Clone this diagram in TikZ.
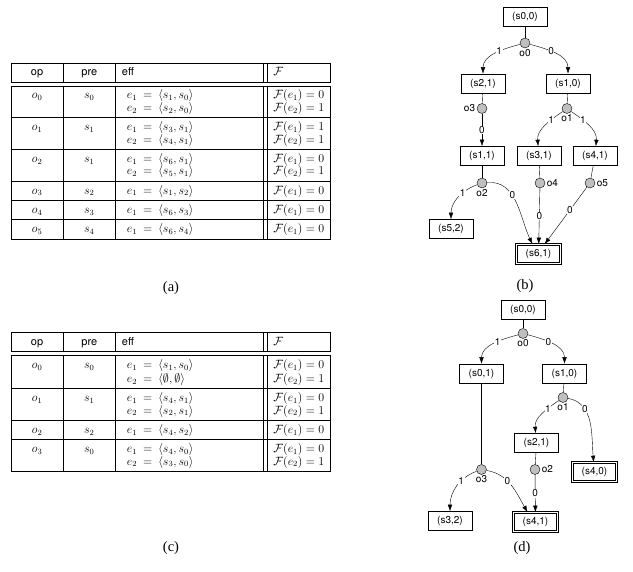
\documentclass[tikz,border=0pt]{standalone}
\usepackage[no-math]{fontspec}
\setsansfont{TeX Gyre Heros}
\newfontfamily\capfont{Liberation Serif}
\usepackage{array}
\usetikzlibrary{positioning,arrows.meta}

\newcolumntype{C}[1]{>{\centering\arraybackslash}p{#1}}
\newcolumntype{L}[1]{>{\raggedright\arraybackslash}p{#1}}
\newcommand{\tp}{\rule{0pt}{12.5pt}}
\newcommand{\bt}{\rule[-6pt]{0pt}{6pt}}
\newcommand{\eff}[3]{\hspace{5pt}$#1$\hspace{6pt}$=$\hspace{6pt}$\langle #2, #3\rangle$}
\newcommand{\fv}[2]{\mbox{$\mathcal{F}(#1) = #2$}}
\newcommand{\hd}{\sffamily\fontsize{11}{12}\selectfont}
\setlength{\arrayrulewidth}{0.7pt}
\setlength{\doublerulesep}{3pt}

\begin{document}
\begin{tikzpicture}[x=1pt,y=-1pt,
  state/.style={draw, line width=0.5pt, rectangle, minimum width=44pt, minimum height=19pt, inner sep=1pt, font=\sffamily\fontsize{10}{12}\selectfont},
  goal/.style={state, line width=0.6pt, double, double distance=1.3pt},
  opnode/.style={circle, draw, fill=gray!50, minimum size=10pt, inner sep=0pt},
  lbl/.style={font=\sffamily\fontsize{10}{12}\selectfont, inner sep=0.5pt},
  onl/.style={lbl, fill=white},
  arr/.style={-{Latex[length=6.5pt,width=4.5pt]}},
  capt/.style={font=\capfont\fontsize{14.5}{16}\selectfont},
  tab/.style={inner sep=0pt, font=\fontsize{11.5}{12}\selectfont}]
\useasboundingbox (0,0) rectangle (633,572);

% table (a)
\node[tab] (taba) at (171,151) {%
\begin{tabular}{|C{39pt}|C{40pt}|L{135pt}||L{51pt}|}
\hline
\tp\bt\hd op & \hd pre & \hd eff & $\mathcal{F}$\\
\hline\hline
\tp$o_0$ & $s_0$ & \eff{e_1}{s_1}{s_0} & \fv{e_1}{0}\\
\bt & & \eff{e_2}{s_2}{s_0} & \fv{e_2}{1}\\
\hline
\tp$o_1$ & $s_1$ & \eff{e_1}{s_3}{s_1} & \fv{e_1}{1}\\
\bt & & \eff{e_2}{s_4}{s_1} & \fv{e_2}{1}\\
\hline
\tp$o_2$ & $s_1$ & \eff{e_1}{s_6}{s_1} & \fv{e_1}{0}\\
\bt & & \eff{e_2}{s_5}{s_1} & \fv{e_2}{1}\\
\hline
\tp\bt$o_3$ & $s_2$ & \eff{e_1}{s_1}{s_2} & \fv{e_1}{0}\\
\hline
\tp\bt$o_4$ & $s_3$ & \eff{e_1}{s_6}{s_3} & \fv{e_1}{0}\\
\hline
\tp\bt$o_5$ & $s_4$ & \eff{e_1}{s_6}{s_4} & \fv{e_1}{0}\\
\hline
\end{tabular}};
\node[capt] (capa) at (171,288) {(a)};

% graph (b)
\node[state] (s00b) at (525,17) {(s0,0)};
\node[opnode] (o0b) at (525,43) {};
\node[state] (s21b) at (483,83.5) {(s2,1)};
\node[state] (s10b) at (568,83.5) {(s1,0)};
\node[opnode] (o3b) at (482,108.5) {};
\node[opnode] (o1b) at (567,108.5) {};
\node[state] (s11b) at (482,156) {(s1,1)};
\node[state] (s31b) at (539,156) {(s3,1)};
\node[state] (s41b) at (595,156) {(s4,1)};
\node[opnode] (o2b) at (482,183) {};
\node[opnode] (o4b) at (540,183) {};
\node[opnode] (o5b) at (590,183) {};
\node[state] (s52b) at (451,229) {(s5,2)};
\node[goal] (s61b) at (538.5,254) {(s6,1)};

\node[lbl, below=0.5pt of o0b] (lo0b) {o0};
\node[lbl, left=1pt of o3b] (lo3b) {o3};
\node[lbl, below=0.5pt of o1b] (lo1b) {o1};
\node[lbl, below=0.5pt of o2b] (lo2b) {o2};
\node[lbl, right=1pt of o4b] (lo4b) {o4};
\node[lbl, right=1pt of o5b] (lo5b) {o5};

\draw (s00b) -- (o0b);
\draw[arr] (o0b) to[out=195,in=90] node[onl,pos=0.4] (e1b) {1} (s21b);
\draw[arr] (o0b) to[out=-15,in=90] node[onl,pos=0.4] (e2b) {0} (s10b);
\draw (s21b) -- (o3b);
\draw[arr] (o3b) -- node[onl] (e3b) {0} (s11b);
\draw (s10b) -- (o1b);
\draw[arr] (o1b) to[out=215,in=95] node[onl,pos=0.3] (e4b) {1} (s31b);
\draw[arr] (o1b) to[out=-35,in=85] node[onl,pos=0.3] (e5b) {1} (s41b);
\draw (s11b) -- (o2b);
\draw[arr] (o2b) to[out=200,in=90] node[onl,pos=0.35] (e6b) {1} (s52b);
\draw[arr] (o2b) to[out=5,in=115] node[onl,pos=0.4] (e7b) {0} (s61b.122);
\draw (s31b) -- (o4b);
\draw[arr] (o4b) -- node[onl] (e8b) {0} (s61b);
\draw (s41b) -- (o5b);
\draw[arr] (o5b) -- node[onl,pos=0.4] (e9b) {0} (s61b.58);
\node[capt] (capb) at (525,286) {(b)};

% table (c)
\node[tab] (tabc) at (171,402) {%
\begin{tabular}{|C{39pt}|C{40pt}|L{135pt}||L{51pt}|}
\hline
\tp\bt\hd op & \hd pre & \hd eff & $\mathcal{F}$\\
\hline\hline
\tp$o_0$ & $s_0$ & \eff{e_1}{s_1}{s_0} & \fv{e_1}{0}\\
\bt\rule{0pt}{10.5pt} & & \eff{e_2}{\emptyset}{\emptyset} & \fv{e_2}{1}\\
\hline
\tp$o_1$ & $s_1$ & \eff{e_1}{s_4}{s_1} & \fv{e_1}{0}\\
\bt & & \eff{e_2}{s_2}{s_1} & \fv{e_2}{1}\\
\hline
\tp\bt$o_2$ & $s_2$ & \eff{e_1}{s_4}{s_2} & \fv{e_1}{0}\\
\hline
\tp$o_3$ & $s_0$ & \eff{e_1}{s_4}{s_0} & \fv{e_1}{0}\\
\bt & & \eff{e_2}{s_3}{s_0} & \fv{e_2}{1}\\
\hline
\end{tabular}};
\node[capt] (capc) at (171,548) {(c)};

% graph (d)
\node[state] (s00d) at (523,310) {(s0,0)};
\node[opnode] (o0d) at (523,333.5) {};
\node[state] (s01d) at (481.5,373.5) {(s0,1)};
\node[state] (s10d) at (564.5,373.5) {(s1,0)};
\node[opnode] (o1d) at (563,397.5) {};
\node[state] (s21d) at (536.5,443) {(s2,1)};
\node[goal] (s40d) at (594.5,472) {(s4,0)};
\node[opnode] (o2d) at (535,469.5) {};
\node[opnode] (o3d) at (481.5,469.5) {};
\node[state] (s32d) at (450,521) {(s3,2)};
\node[goal] (s41d) at (535.5,522) {(s4,1)};

\node[lbl, below=0.5pt of o0d] (lo0d) {o0};
\node[lbl, below=0.5pt of o1d] (lo1d) {o1};
\node[lbl, right=1pt of o2d] (lo2d) {o2};
\node[lbl, below=0.5pt of o3d] (lo3d) {o3};

\draw (s00d) -- (o0d);
\draw[arr] (o0d) to[out=195,in=90] node[onl,pos=0.4] (e1d) {1} (s01d);
\draw[arr] (o0d) to[out=-15,in=90] node[onl,pos=0.4] (e2d) {0} (s10d);
\draw (s01d) -- (o3d);
\draw (s10d) -- (o1d);
\draw[arr] (o1d) to[out=215,in=95] node[onl,pos=0.3] (e3d) {1} (s21d);
\draw[arr] (o1d) to[out=-10,in=95] node[onl,pos=0.3] (e4d) {0} (s40d);
\draw (s21d) -- (o2d);
\draw[arr] (o2d) -- node[onl] (e5d) {0} (s41d);
\draw[arr] (o3d) to[out=200,in=90] node[onl,pos=0.35] (e6d) {1} (s32d);
\draw[arr] (o3d) to[out=-10,in=120] node[onl,pos=0.4] (e7d) {0} (s41d.129);
\node[capt] (capd) at (522,548) {(d)};
\end{tikzpicture}
\end{document}
